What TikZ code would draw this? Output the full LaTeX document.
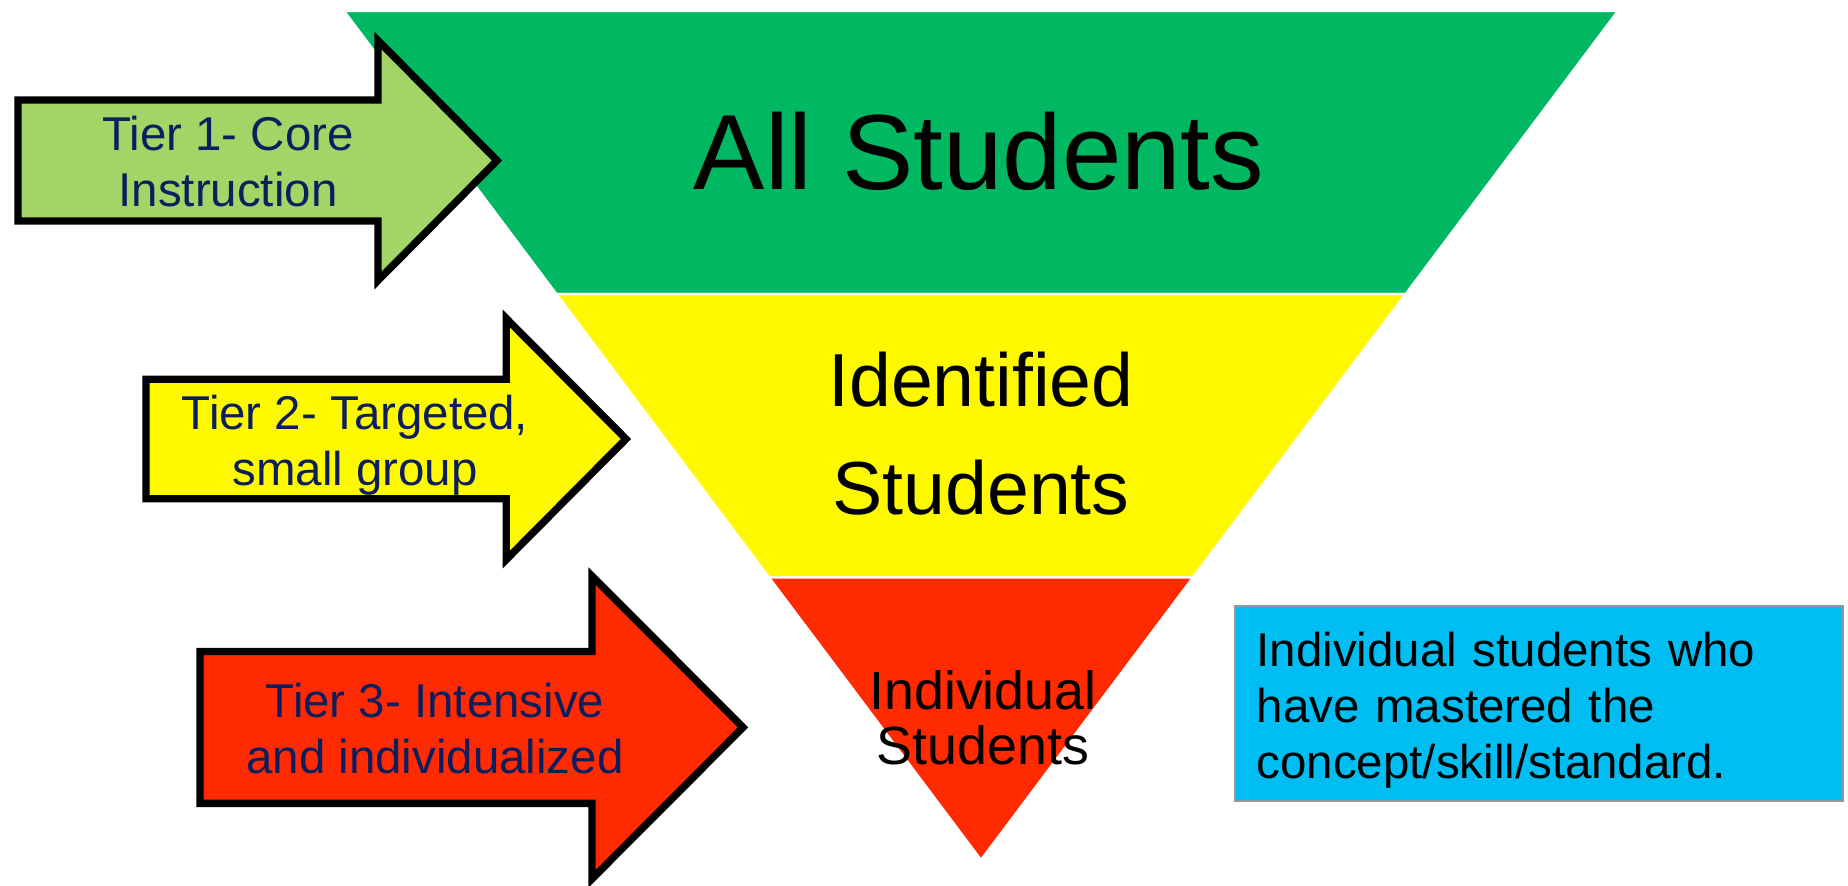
\documentclass[tikz,border=0pt]{standalone}
\usepackage{fontspec}
\setmainfont{Liberation Sans}
\usepackage{tikz}

\definecolor{bandgreen}{RGB}{0,184,98}
\definecolor{bandyellow}{RGB}{255,249,0}
\definecolor{bandred}{RGB}{255,42,0}
\definecolor{arrowgreen}{RGB}{162,213,101}
\definecolor{boxblue}{RGB}{0,189,242}
\definecolor{boxgray}{RGB}{150,150,150}
\definecolor{tiernavy}{RGB}{12,30,94}

\begin{document}
\begin{tikzpicture}[
  band/.style={draw=white,line width=0.7pt},
  tierarrow/.style={draw=black,line width=2.1pt,miter limit=20},
  tiertext/.style={text=tiernavy,align=center,font=\fontsize{13.5}{16}\selectfont},
  bandtext/.style={text=black,align=center}]
\useasboundingbox (0,0) rectangle (18.48,8.85);
% the three bands of the triangle
\filldraw[band,fill=bandgreen](3.44,8.74)--(16.18,8.74)--(14.057,5.91)--(5.563,5.91)--cycle;
\filldraw[band,fill=bandyellow](5.563,5.91)--(14.057,5.91)--(11.93,3.075)--(7.69,3.075)--cycle;
\filldraw[band,fill=bandred](7.69,3.075)--(11.93,3.075)--(9.81,0.25)--cycle;
\node[bandtext,anchor=base,font=\fontsize{30.4}{36}\selectfont] (allstud) at (9.79,6.96) {All Students};
\node[bandtext,font=\fontsize{21.4}{30.7}\selectfont] (identstud) at (9.81,4.515) {Identified\\Students};
\node[bandtext,font=\fontsize{15.3}{15.7}\selectfont] (indivstud) at (9.83,1.67) {Individual\\Students};
% tier arrows
\filldraw[tierarrow,fill=arrowgreen](0.18,7.85)--(3.78,7.85)--(3.78,8.445)--(4.97,7.245)--(3.78,6.045)--(3.78,6.64)--(0.18,6.64)--cycle;
\filldraw[tierarrow,fill=bandyellow](1.46,5.057)--(5.063,5.057)--(5.063,5.665)--(6.26,4.46)--(5.063,3.255)--(5.063,3.863)--(1.46,3.863)--cycle;
\filldraw[tierarrow,fill=bandred](2.00,2.335)--(5.92,2.335)--(5.92,3.09)--(7.43,1.576)--(5.92,0.062)--(5.92,0.817)--(2.00,0.817)--cycle;
\node[tiertext] (tierone) at (2.28,7.235) {Tier 1- Core\\Instruction};
\node[tiertext] (tiertwo) at (3.55,4.40) {Tier 2- Targeted,\\small group};
\node[tiertext] (tierthree) at (4.35,1.565) {Tier 3- Intensive\\and individualized};
% side box
\node[draw=boxgray,line width=0.8pt,fill=boxblue,minimum width=6.08cm,minimum height=1.95cm] (mastered) at (15.39,1.815) {};
\node[anchor=north west,inner sep=0pt,text width=5.66cm,align=left,font=\fontsize{13.5}{16}\selectfont] (masteredtext) at (12.56,2.54)
  {Individual students who\\have mastered the\\concept/skill/standard.};
\end{tikzpicture}
\end{document}
